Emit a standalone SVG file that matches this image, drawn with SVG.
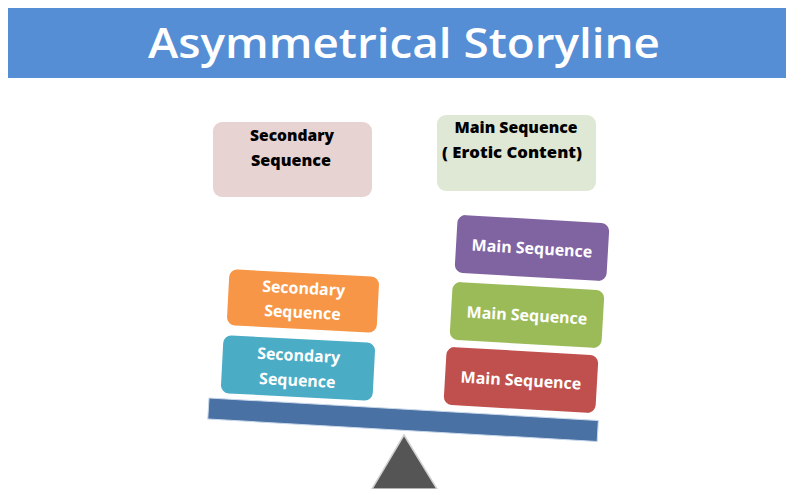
<svg xmlns="http://www.w3.org/2000/svg" width="786" height="489" viewBox="0 0 786 489">
  <style>
    .box { stroke: none; }
    .lbl-w { font-family: "Open Sans", "Liberation Sans", sans-serif; font-weight: bold; font-size: 16px; fill: #ffffff; text-anchor: middle; }
    .lbl-k { font-family: "Open Sans", "Liberation Sans", sans-serif; font-weight: 800; font-size: 15px; fill: #000000; text-anchor: middle; }
    .title { font-family: "Open Sans", "Liberation Sans", sans-serif; font-weight: 600; font-size: 42px; fill: #ffffff; text-anchor: middle; }
  </style>
  <rect width="786" height="489" fill="#ffffff"/>

  <!-- header band -->
  <g id="header">
    <rect x="8" y="8" width="778" height="70" fill="#558ed5"/>
    <text class="title" x="404" y="58" textLength="512" lengthAdjust="spacingAndGlyphs">Asymmetrical Storyline</text>
  </g>

  <!-- legend boxes -->
  <g id="legend-secondary">
    <rect x="213" y="122" width="159" height="75" rx="9" fill="#e8d3d3"/>
    <text class="lbl-k" x="292" y="141" textLength="84" lengthAdjust="spacingAndGlyphs">Secondary</text>
    <text class="lbl-k" x="291" y="166" textLength="80" lengthAdjust="spacingAndGlyphs">Sequence</text>
  </g>
  <g id="legend-main">
    <rect x="437" y="115" width="159" height="76" rx="9" fill="#dfe8d5"/>
    <text class="lbl-k" x="516" y="133" textLength="123" lengthAdjust="spacingAndGlyphs">Main Sequence</text>
    <text class="lbl-k" x="512" y="158" textLength="140" lengthAdjust="spacingAndGlyphs">( Erotic Content)</text>
  </g>

  <!-- fulcrum -->
  <g id="fulcrum">
    <polygon points="404,435 437,489 372,489" fill="#555555" stroke="#d0d0d0" stroke-width="1.5"/>
  </g>

  <!-- tilted beam and stacked blocks -->
  <g id="beam">
    <rect x="209" y="398" width="390" height="21" fill="#4a71a3" stroke="#c9d8ea" stroke-width="1" transform="rotate(3.3 209 398)"/>
  </g>

  <g id="secondary-top" transform="rotate(3 303 301)">
    <rect class="box" x="228" y="273" width="150" height="56" rx="8" fill="#f79646"/>
    <text class="lbl-w" x="303" y="294">Secondary</text>
    <text class="lbl-w" x="303" y="318">Sequence</text>
  </g>
  <g id="secondary-bottom" transform="rotate(3 298 368)">
    <rect class="box" x="222" y="339" width="152" height="58" rx="8" fill="#4bacc6"/>
    <text class="lbl-w" x="298" y="361">Secondary</text>
    <text class="lbl-w" x="298" y="386">Sequence</text>
  </g>

  <g id="main-top" transform="rotate(3.3 532 248)">
    <rect class="box" x="456" y="219" width="152" height="58" rx="8" fill="#8064a2"/>
    <text class="lbl-w" x="532" y="254">Main Sequence</text>
  </g>
  <g id="main-middle" transform="rotate(3.3 527 315)">
    <rect class="box" x="451" y="286" width="152" height="58" rx="8" fill="#9bbb59"/>
    <text class="lbl-w" x="527" y="321">Main Sequence</text>
  </g>
  <g id="main-bottom" transform="rotate(3.3 521 380)">
    <rect class="box" x="445" y="351" width="152" height="58" rx="8" fill="#c0504d"/>
    <text class="lbl-w" x="521" y="386">Main Sequence</text>
  </g>
</svg>
